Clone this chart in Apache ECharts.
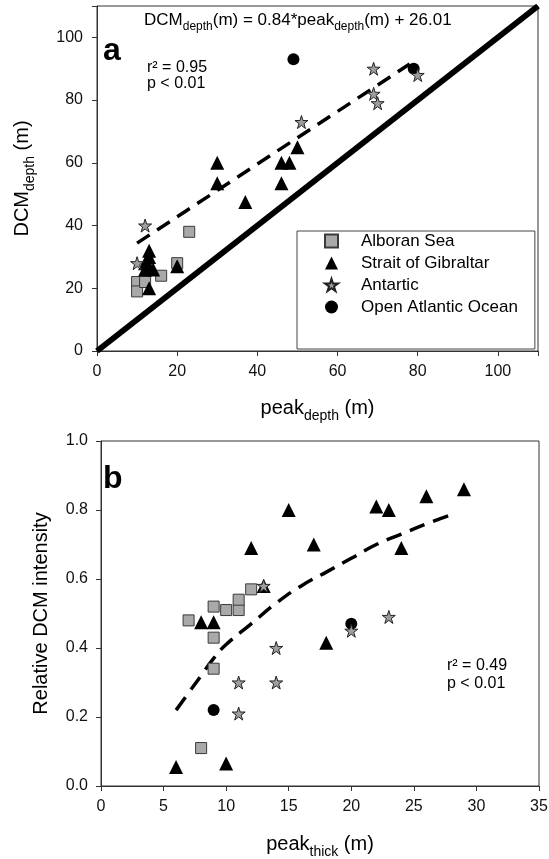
<!DOCTYPE html>
<html>
<head>
<meta charset="utf-8">
<script src="https://cdn.jsdelivr.net/npm/echarts@6/dist/echarts.min.js"></script>
<style>
html,body{margin:0;padding:0;background:#fff;}
#c{width:549px;height:859px;}
</style>
</head>
<body>
<div id="c"></div>
<script>
// ---------- Panel a data ----------
const aAlboranX = [23, 20, 16, 10, 10, 12];
const aAlboranY = [38, 28, 24, 22, 19, 22];
const aGibraltarX = [13, 13, 12, 13, 12, 14, 13, 20, 30, 30, 37, 46, 48, 50, 46];
const aGibraltarY = [32, 30, 28, 27, 26, 26, 20, 27, 60, 53.5, 47.5, 60, 60, 65, 53.5];
const aAntarticX = [12, 10, 51, 69, 69, 70, 80];
const aAntarticY = [40, 28, 73, 90, 82, 79, 88];
const aAtlanticX = [49, 79];
const aAtlanticY = [93, 90];
const aFitX = [10, 78];
const aFitY = [34.4, 91.5];
const aOneToOneX = [0, 110];
const aOneToOneY = [0, 110];
const aTicksX = [0, 20, 40, 60, 80, 100];
const aTicksY = [0, 20, 40, 60, 80, 100];

// ---------- Panel b data ----------
const bAlboranX = [7, 9, 9, 9, 10, 11, 11, 12, 8];
const bAlboranY = [0.48, 0.52, 0.43, 0.34, 0.51, 0.51, 0.54, 0.57, 0.11];
const bGibraltarX = [8, 9, 12, 13, 15, 17, 18, 6, 10, 22, 23, 24, 26, 29];
const bGibraltarY = [0.475, 0.475, 0.69, 0.58, 0.80, 0.70, 0.415, 0.055, 0.065, 0.81, 0.80, 0.69, 0.84, 0.86];
const bAntarticX = [13, 14, 11, 14, 11, 20, 23];
const bAntarticY = [0.58, 0.40, 0.30, 0.30, 0.21, 0.45, 0.49];
const bAtlanticX = [9, 20];
const bAtlanticY = [0.22, 0.47];
const bFitX = [6, 7, 8, 9, 10, 12, 14, 16, 18, 20, 22, 24, 26, 28.3];
const bFitY = [0.22, 0.27, 0.32, 0.37, 0.41, 0.47, 0.53, 0.58, 0.62, 0.66, 0.70, 0.73, 0.76, 0.79];
const bTicksX = [0, 5, 10, 15, 20, 25, 30, 35];
const bTicksY = [0.0, 0.2, 0.4, 0.6, 0.8, 1.0];

const names = ['Alboran Sea', 'Strait of Gibraltar', 'Antartic', 'Open Atlantic Ocean'];

const FONT = '"Liberation Sans", Arial, sans-serif';
const STAR = 'path://M0,-1 L0.2245,-0.309 L0.951,-0.309 L0.363,0.118 L0.588,0.809 L0,0.382 L-0.588,0.809 L-0.363,0.118 L-0.951,-0.309 L-0.2245,-0.309 Z';

function zip(xs, ys) { return xs.map((x, i) => [x, ys[i]]); }

const richAxis = {
  m: { fontSize: 20, fontFamily: FONT, color: '#000', fontWeight: 'normal', lineHeight: 24, verticalAlign: 'top' },
  s: { fontSize: 14, fontFamily: FONT, color: '#000', fontWeight: 'normal', lineHeight: 36 }
};
const richTxt = {
  m: { fontSize: 17, fontFamily: FONT, color: '#000', fontWeight: 'normal', lineHeight: 20, verticalAlign: 'top' },
  s: { fontSize: 12, fontFamily: FONT, color: '#000', fontWeight: 'normal', lineHeight: 30 }
};

function valAxis(ticks, min, max, interval, grid, margin, extra) {
  return Object.assign({
    type: 'value', gridIndex: grid, min: min, max: max, interval: interval,
    axisLine: { show: true, lineStyle: { color: '#333', width: 1 } },
    axisTick: { show: true, inside: false, length: 5, lineStyle: { color: '#333' } },
    splitLine: { show: false },
    axisLabel: {
      color: '#111', fontSize: 16, fontFamily: FONT, margin: margin,
      formatter: v => (ticks.some(t => Math.abs(t - v) < 1e-9) ? (extra && extra.fixed ? v.toFixed(1) : String(v)) : '')
    }
  }, extra && extra.opts ? extra.opts : {});
}

function scatter(name, data, xi, symbol, size, style) {
  return { type: 'scatter', name: name, xAxisIndex: xi, yAxisIndex: xi, data: data,
    symbol: symbol, symbolSize: size, itemStyle: Object.assign({ opacity: 1 }, style), z: 3 };
}

const stA = { color: '#a9a9a9', borderColor: '#3a3a3a', borderWidth: 1 };
const stG = { color: '#000' };
const stS = { color: '#9e9e9e', borderColor: '#222', borderWidth: 1 };
const stO = { color: '#000' };

const option = {
  animation: false,
  backgroundColor: '#fff',
  grid: [
    { left: 97, right: 11, top: 6, height: 345, show: true, borderColor: '#333', borderWidth: 1,
      backgroundColor: 'transparent', containLabel: false, outerBoundsMode: 'none' },
    { left: 101, right: 10, top: 441, height: 345, show: true, borderColor: '#333', borderWidth: 1,
      backgroundColor: 'transparent', containLabel: false, outerBoundsMode: 'none' }
  ],
  xAxis: [
    valAxis(aTicksX, 0, 110, 20, 0, 13, { opts: {
      name: '{m|peak}{s|depth}{m| (m)}', nameLocation: 'middle', nameGap: 47,
      nameTextStyle: { rich: richAxis } } }),
    valAxis(bTicksX, 0, 35, 5, 1, 13, { opts: {
      name: '{m|peak}{s|thick}{m| (m)}', nameLocation: 'middle', nameGap: 48,
      nameTextStyle: { rich: richAxis } } })
  ],
  yAxis: [
    valAxis(aTicksY, 0, 110, 20, 0, 14, { opts: {
      name: '{m|DCM}{s|depth}{m| (m)}', nameLocation: 'middle', nameGap: 49,
      nameTextStyle: { rich: richAxis } } }),
    valAxis(bTicksY, 0, 1, 0.2, 1, 13, { fixed: true, opts: {
      name: 'Relative DCM intensity', nameLocation: 'middle', nameGap: 50,
      nameTextStyle: { fontSize: 20, fontFamily: FONT, color: '#000' } } })
  ],
  legend: {
    data: names, orient: 'vertical', left: 297, top: 231,
    padding: [1, 17, 33, 27], itemGap: 4, itemWidth: 13, itemHeight: 13,
    borderColor: '#444', borderWidth: 1, backgroundColor: '#fff',
    textStyle: { fontSize: 17, fontFamily: FONT, color: '#000', lineHeight: 18, padding: [0, 0, 0, 18] },
    selectedMode: false
  },
  title: [
    { text: '{m|DCM}{s|depth}{m|(m) = 0.84*peak}{s|depth}{m|(m) + 26.01}', left: 144, top: 12, padding: 0,
      textStyle: { fontWeight: 'normal', rich: richTxt } },
    { text: 'a', left: 103, top: 35, padding: 0, textStyle: { fontSize: 32, fontWeight: 'bold', fontFamily: FONT, color: '#000' } },
    { text: 'r² = 0.95\np < 0.01', left: 147, top: 59, padding: 0, textStyle: { fontSize: 16, fontFamily: FONT, color: '#000', lineHeight: 16.5, fontWeight: 'normal' } },
    { text: 'b', left: 103, top: 463, padding: 0, textStyle: { fontSize: 32, fontWeight: 'bold', fontFamily: FONT, color: '#000' } },
    { text: 'r² = 0.49\np < 0.01', left: 447, top: 657, padding: 0, textStyle: { fontSize: 16, fontFamily: FONT, color: '#000', lineHeight: 18, fontWeight: 'normal' } }
  ],
  series: [
    { type: 'line', xAxisIndex: 0, yAxisIndex: 0, data: zip(aOneToOneX, aOneToOneY), symbol: 'none',
      lineStyle: { color: '#000', width: 6 }, clip: true, z: 2, silent: true },
    { type: 'line', xAxisIndex: 0, yAxisIndex: 0, data: zip(aFitX, aFitY), symbol: 'none',
      lineStyle: { color: '#000', width: 3.5, type: [15, 9] }, z: 2, silent: true },
    scatter(names[0], zip(aAlboranX, aAlboranY), 0, 'rect', 11, stA),
    scatter(names[1], zip(aGibraltarX, aGibraltarY), 0, 'triangle', 14, stG),
    scatter(names[3], zip(aAtlanticX, aAtlanticY), 0, 'circle', 12, stO),
    scatter(names[2], zip(aAntarticX, aAntarticY), 0, STAR, 13, stS),

    { type: 'line', xAxisIndex: 1, yAxisIndex: 1, data: zip(bFitX, bFitY), symbol: 'none', smooth: true,
      lineStyle: { color: '#000', width: 3.5, type: [16, 9] }, z: 2, silent: true },
    scatter(names[0], zip(bAlboranX, bAlboranY), 1, 'rect', 11, stA),
    scatter(names[1], zip(bGibraltarX, bGibraltarY), 1, 'triangle', 14, stG),
    scatter(names[3], zip(bAtlanticX, bAtlanticY), 1, 'circle', 12, stO),
    scatter(names[2], zip(bAntarticX, bAntarticY), 1, STAR, 13, stS)
  ]
};

const chart = echarts.init(document.getElementById('c'), null, { renderer: 'canvas' });
chart.setOption(option);
</script>
</body>
</html>
